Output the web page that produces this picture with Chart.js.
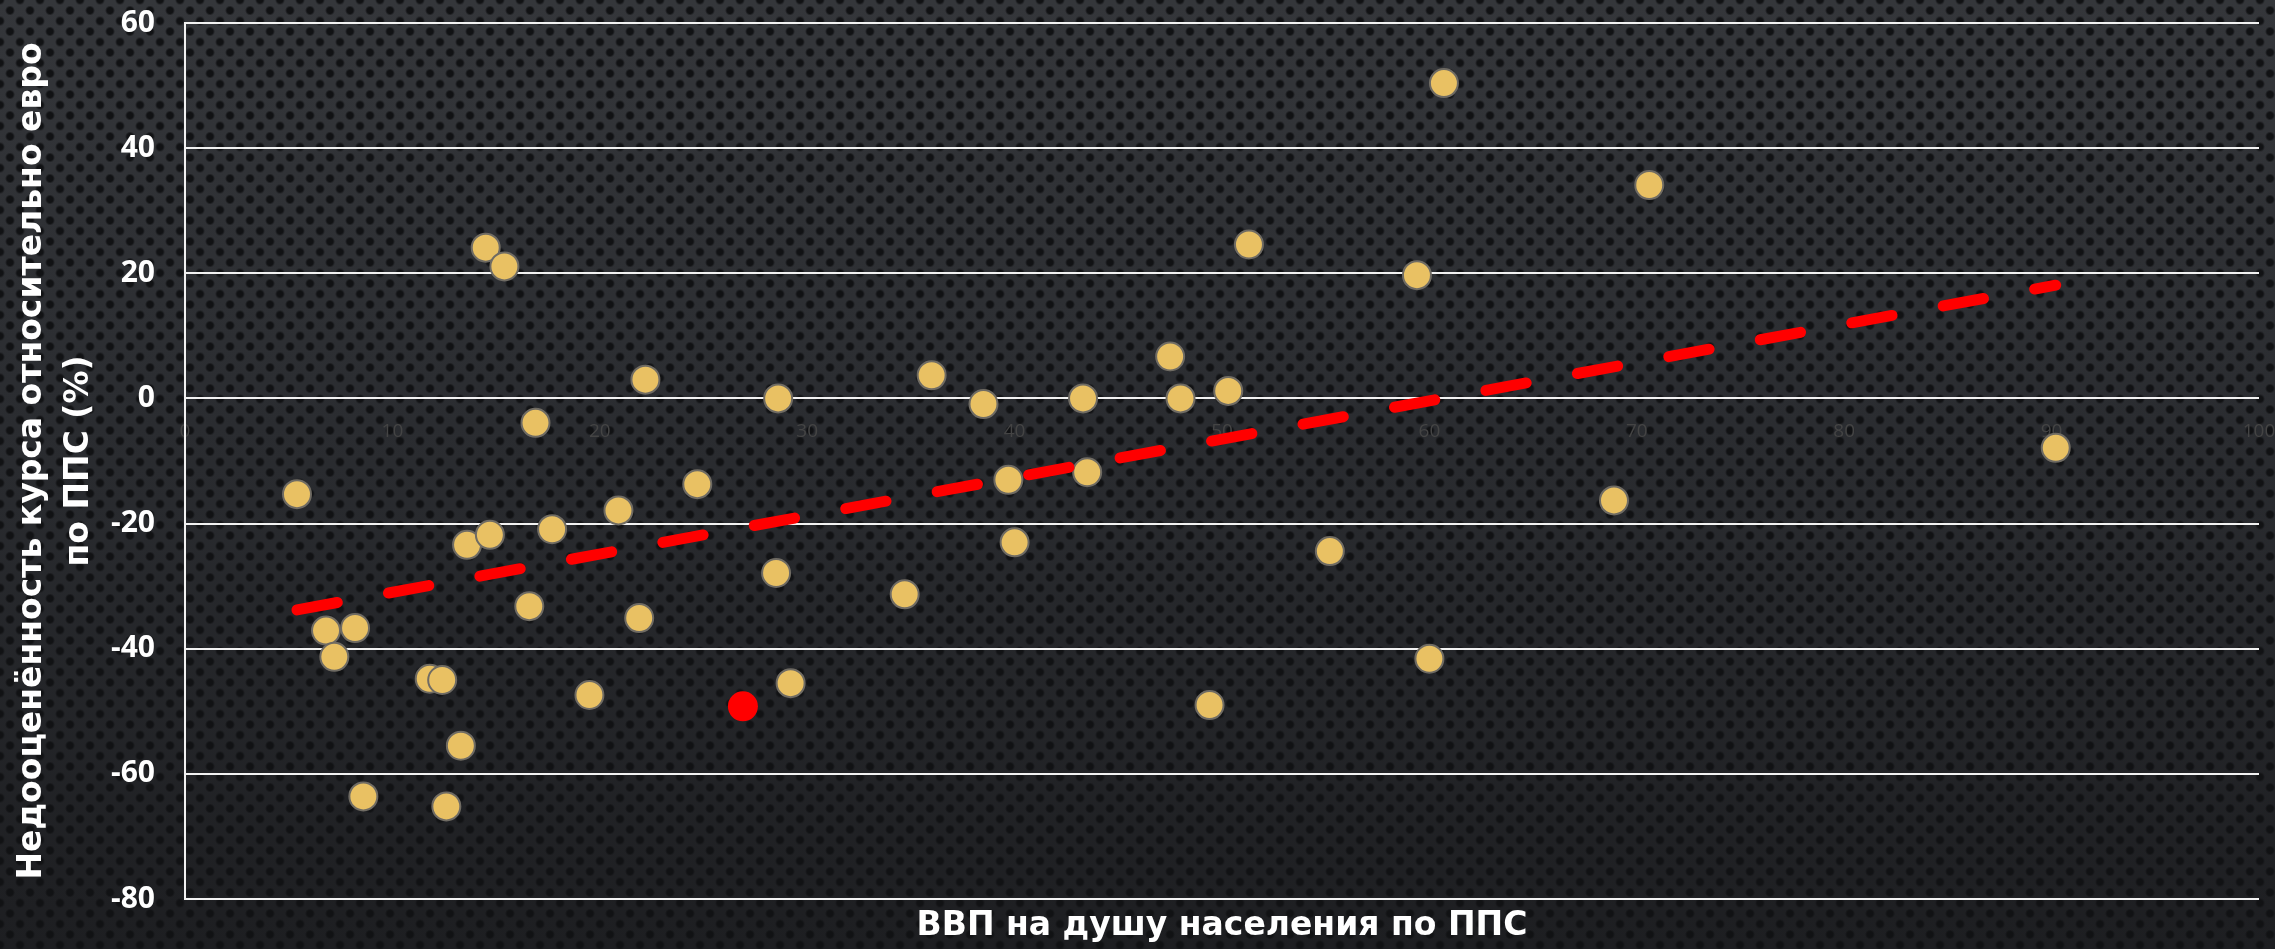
<!DOCTYPE html>
<html>
<head>
<meta charset="utf-8">
<script src="https://cdn.jsdelivr.net/npm/chart.js@4"></script>
<style>
    html, body {
        margin: 0;
        padding: 0;
    }
    body {
        width: 2275px;
        height: 949px;
        overflow: hidden;
        background-color: #26282b;
        background-image:
            radial-gradient(circle, #111214 3px, rgba(17,18,20,0) 5px),
            radial-gradient(circle, #111214 3px, rgba(17,18,20,0) 5px),
            linear-gradient(to bottom, #34363a 0%, #2a2c30 45%, #1d1e21 100%);
        background-size: 20px 21px, 20px 21px, 100% 100%;
        background-position: 0 0, 10px 10.5px, 0 0;
    }
    #box {
        position: relative;
        width: 2275px;
        height: 949px;
    }
</style>
</head>
<body>
<div id="box"><canvas id="myChartPPS"></canvas></div>
<script>
// ВВП на душу населения по ППС (x) / недооценённость курса (y)
var gdpX = [5.4, 6.8, 7.2, 8.2, 8.6, 11.8, 12.4, 12.6, 13.3, 13.6, 14.5, 14.7, 15.4, 16.6, 16.9,
    17.7, 19.5, 20.9, 21.9, 22.2, 24.7, 28.5, 28.6, 29.2, 34.7, 36.0, 38.5, 39.7, 40.0, 43.3,
    43.5, 47.5, 48.0, 49.4, 50.3, 51.3, 55.2, 59.4, 60.0, 60.7, 68.9, 70.6, 90.2];
var underY = [-15.3, -37.1, -41.3, -36.7, -63.6, -44.8, -45.0, -65.2, -55.5, -23.4, 24.1, -21.8, 21.1, -33.2, -3.9,
    -20.9, -47.4, -17.9, -35.1, 3.0, -13.7, -27.9, 0, -45.5, -31.3, 3.7, -0.9, -13.0, -23.0, 0,
    -11.8, 6.7, 0, -49.0, 1.2, 24.6, -24.4, 19.7, -41.6, 50.4, -16.3, 34.1, -7.9];
// выделенная точка
var redX = [26.9];
var redY = [-49.2];
// линия тренда
var trendX = [5.4, 90.2];
var trendY = [-33.8, 18.1];

var yTicks = {min: -80, max: 60, step: 20};
var xTicks = {min: 0, max: 100, step: 10};

function toPoints(xs, ys) {
    var pts = [];
    for (var i = 0; i < xs.length; i++) {
        pts.push({x: xs[i], y: ys[i]});
    }
    return pts;
}

function noPadding(scale) {
    scale.paddingLeft = 0;
    scale.paddingRight = 0;
    scale.paddingTop = 0;
    scale.paddingBottom = 0;
}

var tickFont = "'Open Sans', 'Noto Sans', sans-serif";
var titleFont = "'DejaVu Sans', 'Open Sans', sans-serif";

var ctx = document.getElementById('myChartPPS').getContext('2d');
var myChartPPS = new Chart(ctx, {
    type: 'scatter',
    data: {
        datasets: [{
            label: 'Тренд',
            data: toPoints(trendX, trendY),
            showLine: true,
            borderColor: '#ff0000',
            borderWidth: 11,
            borderDash: [41, 52],
            borderCapStyle: 'round',
            pointRadius: 0,
            pointHoverRadius: 0,
        }, {
            label: 'Выделено',
            data: toPoints(redX, redY),
            backgroundColor: '#ff0000',
            borderWidth: 0,
            pointRadius: 15,
        }, {
            label: 'Страны',
            data: toPoints(gdpX, underY),
            backgroundColor: '#e9c163',
            borderColor: '#6f6b63',
            borderWidth: 2,
            pointRadius: 14,
        }]
    },
    options: {
        responsive: true,
        maintainAspectRatio: false,
        animation: false,
        layout: {
            padding: {top: 23, right: 8, left: 0, bottom: 0}
        },
        plugins: {
            legend: {display: false},
            tooltip: {enabled: false}
        },
        scales: {
            x: {
                type: 'linear',
                position: 'bottom',
                min: xTicks.min,
                max: xTicks.max,
                ticks: {display: false},
                grid: {display: false},
                border: {display: false},
                title: {
                    display: true,
                    text: 'ВВП на душу населения по ППС',
                    color: '#ffffff',
                    font: {family: titleFont, size: 33, weight: 'bold', lineHeight: 1.2},
                    padding: {top: 0, bottom: 3}
                },
                afterFit: function (scale) {
                    noPadding(scale);
                    scale.height = 50;
                }
            },
            x2: {
                type: 'linear',
                axis: 'x',
                position: {y: 0},
                min: xTicks.min,
                max: xTicks.max,
                ticks: {
                    stepSize: xTicks.step,
                    color: '#444444',
                    padding: 22,
                    maxRotation: 0,
                    font: {family: tickFont, size: 19}
                },
                grid: {display: false, drawTicks: false},
                border: {display: false},
                afterFit: noPadding
            },
            y: {
                type: 'linear',
                min: yTicks.min,
                max: yTicks.max,
                ticks: {
                    stepSize: yTicks.step,
                    color: '#ffffff',
                    padding: 30,
                    font: {family: tickFont, size: 30, weight: 'bold'}
                },
                grid: {
                    color: '#f2f2f2',
                    lineWidth: 2,
                    drawTicks: false
                },
                border: {
                    display: true,
                    color: '#f2f2f2',
                    width: 2
                },
                title: {
                    display: true,
                    text: ['Недооценённость курса относительно евро', 'по ППС (%)'],
                    color: '#ffffff',
                    font: {family: titleFont, size: 33, weight: 'bold', lineHeight: 1.45},
                    padding: {top: 8, bottom: 0}
                },
                afterFit: function (scale) {
                    noPadding(scale);
                    scale.width = 185;
                }
            }
        }
    }
});
</script>
</body>
</html>
